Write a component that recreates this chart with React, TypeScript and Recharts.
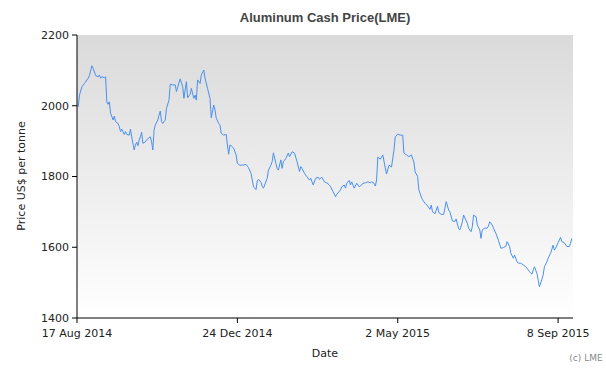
import { CartesianGrid, Customized, Line, LineChart, XAxis, YAxis } from "recharts";

// day offsets from 17 Aug 2014
const days = [
  1, 2, 4, 6, 9, 10, 12, 13, 15, 17,
  18, 19, 20, 22, 23, 24, 25, 26, 27, 29,
  30, 31, 33, 34, 35, 36, 38, 39, 40, 42,
  43, 44, 46, 47, 48, 49, 50, 51, 52, 53,
  55, 56, 58, 59, 60, 61, 62, 63, 65, 66,
  67, 68, 69, 71, 72, 74, 75, 77, 79, 80,
  83, 85, 86, 88, 89, 91, 92, 94, 95, 96,
  97, 99, 100, 102, 103, 105, 107, 108, 110, 111,
  112, 114, 115, 116, 118, 120, 121, 122, 123, 124,
  126, 128, 129, 131, 133, 136, 138, 140, 141, 142,
  144, 145, 146, 148, 149, 150, 153, 154, 156, 157,
  158, 160, 161, 162, 164, 165, 166, 168, 170, 171,
  173, 175, 177, 179, 180, 181, 183, 185, 187, 188,
  190, 192, 194, 195, 197, 199, 201, 203, 204, 206,
  208, 209, 212, 213, 215, 216, 217, 219, 220, 221,
  223, 225, 227, 229, 230, 232, 234, 236, 237, 239,
  240, 241, 242, 244, 246, 248, 249, 251, 253, 255,
  256, 258, 260, 262, 263, 265, 267, 269, 271, 272,
  274, 275, 277, 278, 280, 282, 284, 285, 286, 288,
  290, 291, 293, 295, 297, 299, 300, 302, 304, 305,
  307, 308, 310, 311, 314, 315, 317, 318, 319, 321,
  322, 324, 325, 326, 328, 330, 331, 332, 334, 335,
  337, 339, 341, 343, 345, 346, 348, 349, 351, 352,
  354, 355, 357, 359, 361, 363, 364, 366, 367, 368,
  370, 371, 372, 374, 375, 376, 378, 379, 381, 383,
  384, 385, 387, 389, 390, 392, 394, 396, 397, 398,
];

const prices = [
  1997, 2030, 2054, 2063, 2078, 2085, 2113, 2106, 2085, 2082,
  2087, 2078, 2082, 2079, 2082, 2011, 2004, 2011, 1979, 1960,
  1971, 1955, 1950, 1941, 1927, 1934, 1919, 1927, 1919, 1917,
  1934, 1912, 1875, 1889, 1897, 1887, 1903, 1912, 1925, 1894,
  1898, 1903, 1910, 1912, 1898, 1875, 1931, 1946, 1960, 1974,
  1985, 1955, 1950, 1960, 1993, 2016, 2061, 2059, 2059, 2040,
  2076, 2054, 2021, 2068, 2023, 2032, 2049, 2021, 2030, 2016,
  2073, 2063, 2087, 2101, 2078, 2049, 2021, 1966, 2002, 1988,
  1965, 1950, 1946, 1922, 1917, 1919, 1889, 1863, 1889, 1887,
  1880, 1861, 1837, 1832, 1832, 1834, 1825, 1809, 1790, 1771,
  1763, 1787, 1792, 1784, 1772, 1767, 1795, 1818, 1832, 1842,
  1867, 1837, 1823, 1818, 1847, 1823, 1842, 1851, 1866, 1856,
  1870, 1866, 1842, 1814, 1828, 1823, 1809, 1799, 1790, 1795,
  1776, 1795, 1798, 1792, 1798, 1785, 1782, 1776, 1771, 1757,
  1743, 1750, 1762, 1771, 1776, 1767, 1781, 1789, 1776, 1785,
  1767, 1781, 1771, 1776, 1781, 1782, 1785, 1782, 1785, 1781,
  1773, 1790, 1855, 1849, 1861, 1824, 1807, 1832, 1827, 1875,
  1912, 1920, 1917, 1917, 1866, 1861, 1856, 1861, 1841, 1813,
  1800, 1762, 1742, 1734, 1724, 1717, 1707, 1719, 1700, 1695,
  1716, 1698, 1693, 1693, 1729, 1705, 1700, 1674, 1673, 1680,
  1652, 1649, 1672, 1691, 1668, 1654, 1644, 1658, 1691, 1686,
  1663, 1649, 1625, 1649, 1654, 1654, 1660, 1672, 1663, 1654,
  1639, 1620, 1597, 1599, 1603, 1616, 1602, 1583, 1569, 1578,
  1559, 1555, 1555, 1550, 1545, 1536, 1531, 1524, 1536, 1545,
  1526, 1507, 1488, 1510, 1522, 1545, 1559, 1569, 1583, 1606,
  1592, 1597, 1613, 1628, 1616, 1613, 1602, 1602, 1611, 1625,
];

const tickDays = [0, 129, 258, 387];
const tickLabels = ["17 Aug 2014", "24 Dec 2014", "2 May 2015", "8 Sep 2015"];
const priceTicks = [1400, 1600, 1800, 2000, 2200];

const data = days.map((d, i) => ({ day: d, price: prices[i] }));

const tickFont = { fontFamily: "DejaVu Sans", fontSize: 11, fill: "#222" };

function Extras() {
  return (
    <g>
      <text
        x={325}
        y={22}
        textAnchor="middle"
        fontFamily="Liberation Sans"
        fontWeight="bold"
        fontSize={13}
        fill="#444"
      >
        Aluminum Cash Price(LME)
      </text>
      <text
        x={22}
        y={176}
        transform="rotate(-90 22 176)"
        textAnchor="middle"
        dominantBaseline="middle"
        {...tickFont}
      >
        Price US$ per tonne
      </text>
      <text x={325} y={357} textAnchor="middle" {...tickFont}>
        Date
      </text>
      <text x={586} y={361} textAnchor="middle" fontFamily="DejaVu Sans" fontSize={9} fill="#888">
        (c) LME
      </text>
    </g>
  );
}

export default function App() {
  return (
    <div style={{ position: "absolute", left: 0, top: 0, width: 606, height: 372, background: "#fff" }}>
      <LineChart width={606} height={372} data={data} margin={{ top: 35, right: 33, bottom: 24, left: 0 }}>
        <defs>
          <linearGradient id="plotBg" x1="0" y1="0" x2="0" y2="1">
            <stop offset="0%" stopColor="#dadada" />
            <stop offset="100%" stopColor="#ffffff" />
          </linearGradient>
        </defs>
        <CartesianGrid horizontal={false} vertical={false} fill="url(#plotBg)" stroke="none" />
        <XAxis
          dataKey="day"
          type="number"
          domain={[0, 399]}
          ticks={tickDays}
          tickFormatter={(v: number) => tickLabels[tickDays.indexOf(v)] ?? ""}
          height={30}
          tickSize={5}
          tickMargin={6}
          stroke="#000"
          tick={tickFont}
          interval={0}
        />
        <YAxis
          dataKey="price"
          type="number"
          domain={[1400, 2200]}
          ticks={priceTicks}
          width={77}
          tickSize={5}
          tickMargin={3}
          stroke="#000"
          tick={tickFont}
          interval={0}
        />
        <Line
          dataKey="price"
          type="linear"
          stroke="#4a90f0"
          strokeWidth={1}
          dot={false}
          isAnimationActive={false}
        />
        <Customized component={Extras} />
      </LineChart>
    </div>
  );
}
